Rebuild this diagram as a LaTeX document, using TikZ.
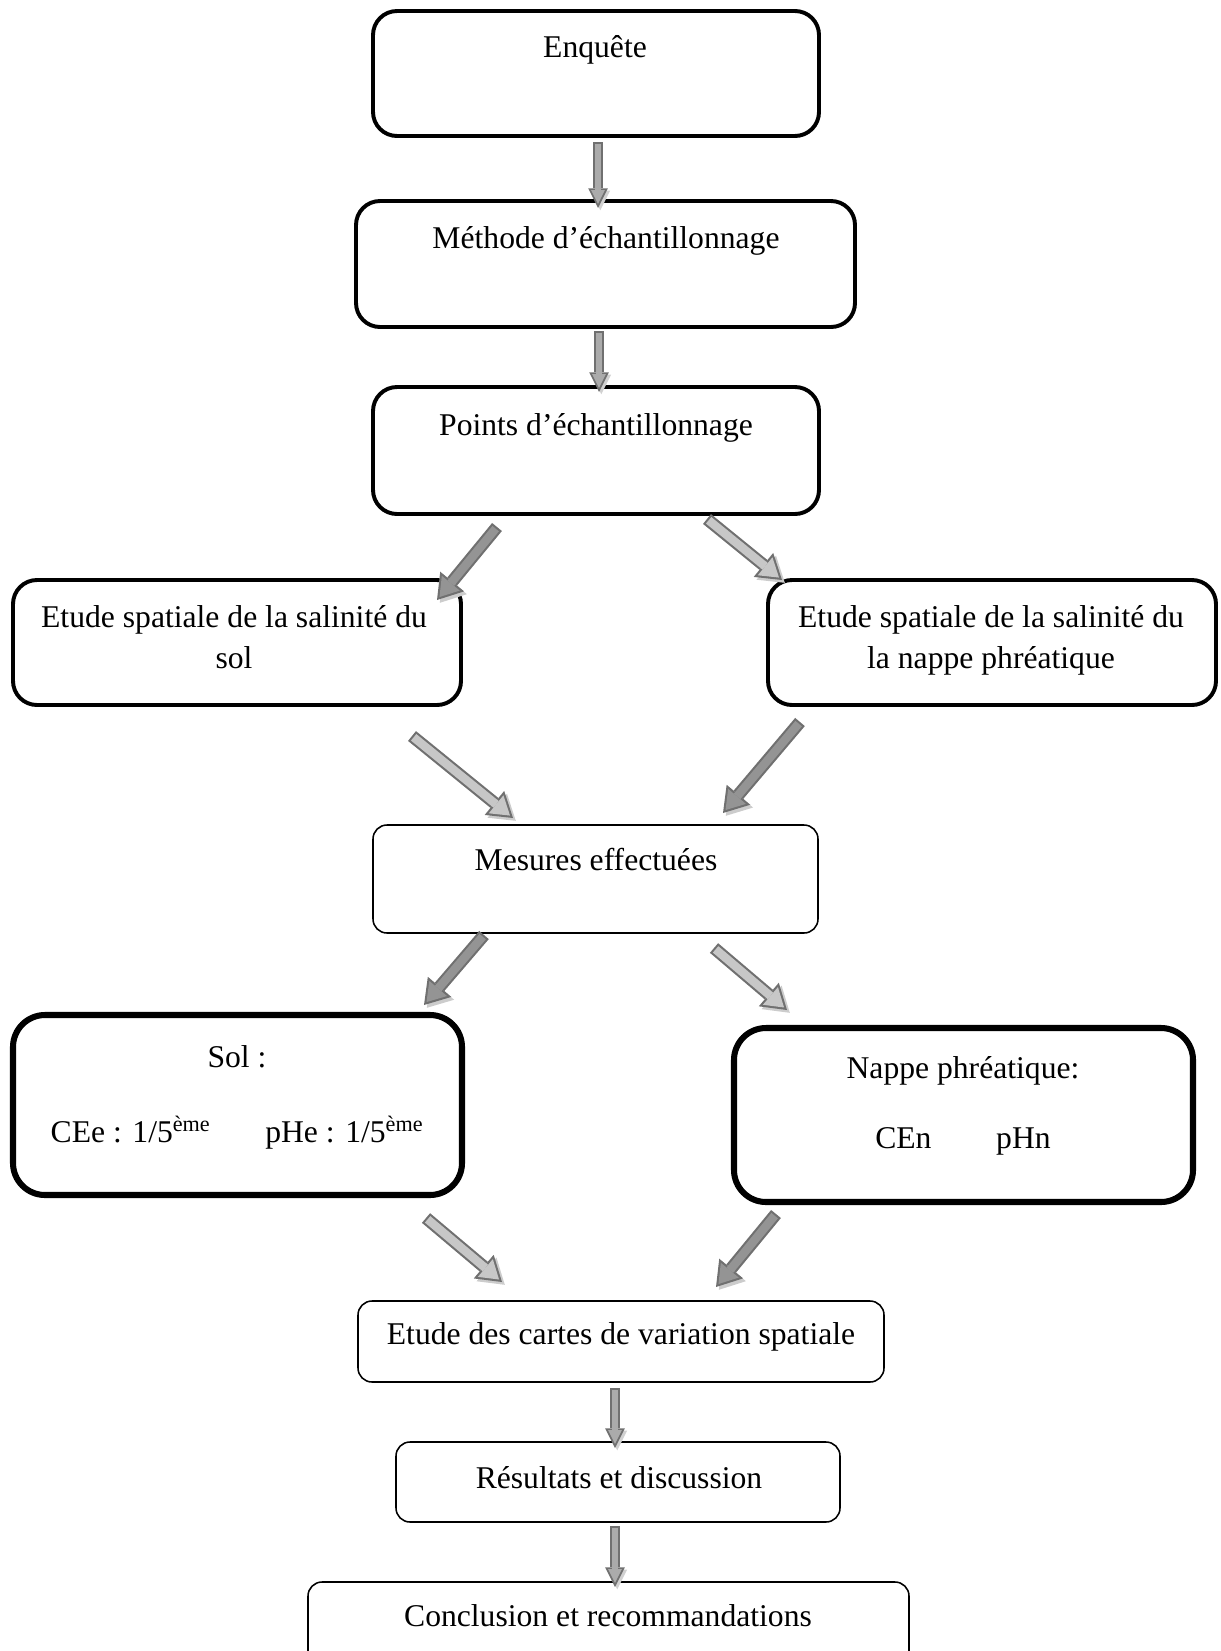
\documentclass[tikz,border=0pt]{standalone}
\usepackage{fontspec}
\setmainfont{Liberation Serif}
\usetikzlibrary{arrows.meta,fit}
\begin{document}
\begin{tikzpicture}[x=0.025cm, y=-0.025cm]
	\tikzset{boite/.style={draw=black, inner sep=0pt, rounded corners=0.6cm, line width=2.8pt},
	fine/.style={line width=1.1pt, rounded corners=0.35cm},
	grasse/.style={line width=4.3pt, rounded corners=0.8cm},
	texte/.style={font=\fontsize{22.5}{29.2}\selectfont, align=center, inner sep=0pt},
	fleche/.style={line width=9pt, draw=black!56, -{Triangle[length=17pt, width=22pt, line width=0pt]},
		preaction={draw=black!20, transform canvas={shift={(2pt,-2pt)}}},
		postaction={draw=#1, line width=6pt, shorten <=1.5pt, shorten >=2.76pt,
			-{Triangle[length=12.7pt, width=16.5pt, line width=0pt]}}},
	fleche/.default=black!22,
	flechev/.style={line width=7pt, draw=black!56, -{Triangle[length=14pt, width=14pt, line width=0pt]},
		preaction={draw=black!18, transform canvas={shift={(1.6pt,-1.6pt)}}},
		postaction={draw=black!33, line width=4.4pt, shorten <=1.3pt, shorten >=2.9pt,
			-{Triangle[length=9.8pt, width=9.8pt, line width=0pt]}}}};

	\path[use as bounding box, clip] (0,0) rectangle (1221,1651);

	\node[boite, fit={(373,11) (819,136)}] (enq) {};
	\node[boite, fit={(356,201) (855,327)}] (meth) {};
	\node[boite, fit={(373,387) (819,514)}] (pts) {};
	\node[boite, fit={(13,580) (461,705)}] (sol1) {};
	\node[boite, fit={(768,580) (1216,705)}] (nap1) {};
	\node[boite, fine, fit={(373,825) (818,933)}] (mes) {};
	\node[boite, grasse, fit={(13,1015) (462,1195)}] (sol2) {};
	\node[boite, grasse, fit={(734,1028) (1193,1202)}] (nap2) {};
	\node[boite, fine, fit={(358,1301) (884,1382)}] (cart) {};
	\node[boite, fine, fit={(396,1442) (840,1522)}] (res) {};
	\node[boite, fine, fit={(308,1582) (909,1700)}] (conc) {};

	\foreach \nom/\x/\y/\txt in {enq/595/57/Enquête, meth/606/248/{Méthode d’échantillonnage},
		pts/596/435/{Points d’échantillonnage}, mes/596/870/{Mesures effectuées},
		cart/621/1344/{Etude des cartes de variation spatiale}, res/619/1488/{Résultats et discussion},
		conc/608/1626/{Conclusion et recommandations}}{
		\node[texte, anchor=base] (t-\nom) at (\x,\y) {\txt};
	}
	\node[texte, anchor=north] (t-sol1) at (234,605.4) {Etude spatiale de la salinité du\\sol};
	\node[texte, anchor=north] (t-nap1) at (991,605.4) {Etude spatiale de la salinité du\\la nappe phréatique};
	\node[texte, anchor=north] (t-sol2) at (237,1045.4)
		{Sol :\\[23.8pt]CEe : 1/5\textsuperscript{ème}\hspace{39pt}pHe : 1/5\textsuperscript{ème}};
	\node[texte, anchor=north] (t-nap2) at (963,1056.4) {Nappe phréatique:\\[20.6pt]CEn\hspace{46pt}pHn};

	\foreach \nom/\xa/\ya/\xb/\yb in {a1/598/142/598/208, a2/599/331/599/392,
		a11/615/1388/615/1448, a12/615/1526/615/1587}{
		\coordinate (\nom-d) at (\xa,\ya);
		\coordinate (\nom-f) at (\xb,\yb);
		\draw[flechev] (\nom-d) -- (\nom-f);
	}
	\foreach \nom/\xa/\ya/\xb/\yb/\coul in {a3/497/527/437/600/black!42, a4/707/519/782/580/black!22,
		a5/412/736/513/818/black!22, a6/800/722/723/813/black!42,
		a7/484/935/424/1005/black!42, a8/714/948/787/1010/black!22,
		a9/426/1218/502/1282/black!22, a10/776/1214/716/1287/black!42}{
		\coordinate (\nom-d) at (\xa,\ya);
		\coordinate (\nom-f) at (\xb,\yb);
		\draw[fleche=\coul] (\nom-d) -- (\nom-f);
	}
\end{tikzpicture}
\end{document}
